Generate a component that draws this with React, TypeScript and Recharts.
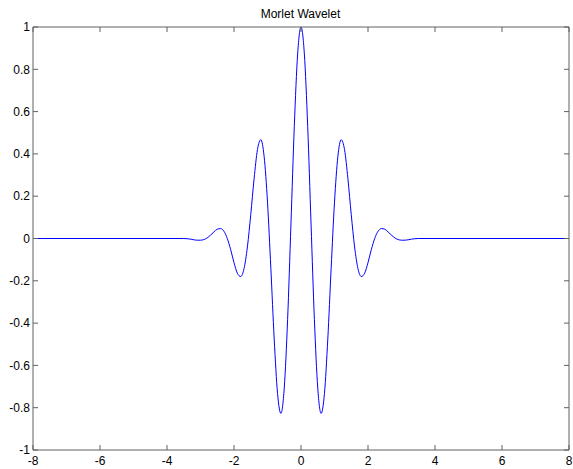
import { Line, LineChart, XAxis, YAxis } from "recharts";

// Morlet wavelet values
const xValues = [
  -8, -3.5, -3.4, -3.3, -3.2, -3.1, -3.0, -2.9, -2.8, -2.7, -2.6, -2.5, -2.4,
  -2.3, -2.2, -2.1, -2.0, -1.9, -1.8, -1.7, -1.6, -1.5, -1.4, -1.3, -1.2, -1.1,
  -1.0, -0.9, -0.8, -0.7, -0.6, -0.5, -0.4, -0.3, -0.2, -0.1, 0, 0.1, 0.2, 0.3,
  0.4, 0.5, 0.6, 0.7, 0.8, 0.9, 1.0, 1.1, 1.2, 1.3, 1.4, 1.5, 1.6, 1.7, 1.8,
  1.9, 2.0, 2.1, 2.2, 2.3, 2.4, 2.5, 2.6, 2.7, 2.8, 2.9, 3.0, 3.1, 3.2, 3.3,
  3.4, 3.5, 8,
];

const psiValues = [
  0, 0, -0.001, -0.003, -0.006, -0.008, -0.008, -0.005, 0.003, 0.016, 0.031,
  0.044, 0.047, 0.034, 0.0, -0.052, -0.114, -0.164, -0.18, -0.142, -0.04,
  0.113, 0.283, 0.42, 0.467, 0.387, 0.172, -0.141, -0.475, -0.733, -0.827,
  -0.707, -0.384, 0.068, 0.53, 0.873, 1, 0.873, 0.53, 0.068, -0.384, -0.707,
  -0.827, -0.733, -0.475, -0.141, 0.172, 0.387, 0.467, 0.42, 0.283, 0.113,
  -0.04, -0.142, -0.18, -0.164, -0.114, -0.052, 0.0, 0.034, 0.047, 0.044,
  0.031, 0.016, 0.003, -0.005, -0.008, -0.008, -0.006, -0.003, -0.001, 0, 0,
];

const xTicks = [-8, -6, -4, -2, 0, 2, 4, 6, 8];
const yTicks = [-1, -0.8, -0.6, -0.4, -0.2, 0, 0.2, 0.4, 0.6, 0.8, 1];

const data = xValues.map((x, i) => ({ x, psi: psiValues[i] }));

const AXIS_COLOR = "#606060";
const FONT = "'Liberation Sans', Arial, sans-serif";
const tickStyle = { fill: "#000", fontSize: 12, fontFamily: FONT };

const fmt = (v: number) => String(Math.round(v * 10) / 10);
const blank = () => "";

function App() {
  return (
    <div style={{ position: "absolute", left: 0, top: 0, width: 573, height: 469 }}>
      <LineChart
        width={573}
        height={469}
        data={data}
        margin={{ top: 26, right: 3, bottom: 0, left: 0 }}
      >
        <XAxis
          xAxisId="bottom"
          dataKey="x"
          type="number"
          domain={[-8, 8]}
          ticks={xTicks}
          interval={0}
          height={19}
          tickSize={-5}
          tickMargin={11}
          tickFormatter={fmt}
          tick={tickStyle}
          stroke={AXIS_COLOR}
        />
        <XAxis
          xAxisId="top"
          orientation="top"
          dataKey="x"
          type="number"
          domain={[-8, 8]}
          ticks={xTicks}
          interval={0}
          height={1}
          tickSize={-5}
          tickFormatter={blank}
          stroke={AXIS_COLOR}
        />
        <YAxis
          yAxisId="left"
          type="number"
          domain={[-1, 1]}
          ticks={yTicks}
          interval={0}
          width={33}
          tickSize={-5}
          tickMargin={8}
          tickFormatter={fmt}
          tick={tickStyle}
          stroke={AXIS_COLOR}
        />
        <YAxis
          yAxisId="right"
          orientation="right"
          type="number"
          domain={[-1, 1]}
          ticks={yTicks}
          interval={0}
          width={1}
          tickSize={-5}
          tickFormatter={blank}
          stroke={AXIS_COLOR}
        />
        {/* invisible series so the top/right box axes get scales */}
        <Line
          xAxisId="top"
          yAxisId="right"
          dataKey="psi"
          stroke="none"
          dot={false}
          activeDot={false}
          isAnimationActive={false}
        />
        <Line
          xAxisId="bottom"
          yAxisId="left"
          type="monotone"
          dataKey="psi"
          stroke="#0000ff"
          strokeWidth={1}
          dot={false}
          activeDot={false}
          isAnimationActive={false}
        />
      </LineChart>
      <svg
        width={573}
        height={26}
        style={{ position: "absolute", left: 0, top: 0, pointerEvents: "none" }}
      >
        <text x={300.5} y={18} textAnchor="middle" fontSize={12} fontFamily={FONT} fill="#000">
          Morlet Wavelet
        </text>
      </svg>
    </div>
  );
}

export default App;
